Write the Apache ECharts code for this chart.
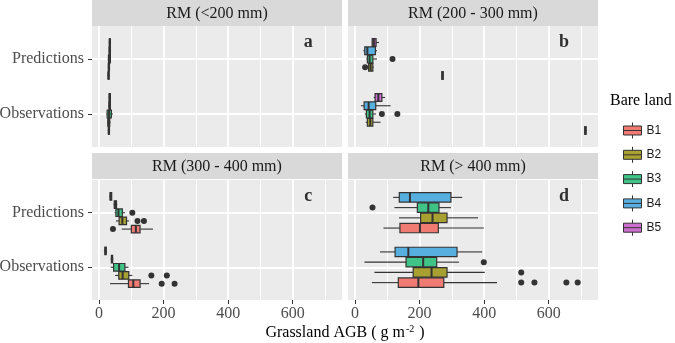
<!DOCTYPE html>
<html>
<head>
<meta charset="utf-8">
<script src="https://cdn.jsdelivr.net/npm/echarts@6/dist/echarts.min.js"></script>
<style>
  html, body { margin: 0; padding: 0; background: #fff; }
  #main { width: 675px; height: 343px; }
</style>
</head>
<body>
<div id="main"></div>
<script>
// panels, classes and ticks
const panelTitles = ['RM (<200 mm)', 'RM (200 - 300 mm)', 'RM (300 - 400 mm)', 'RM (> 400 mm)'];
const panelTags = ['a', 'b', 'c', 'd'];
const categories = ['Observations', 'Predictions'];
const bareLand = ['B1', 'B2', 'B3', 'B4', 'B5'];
const bareColors = ['#F07B72', '#A9A032', '#3FC386', '#57AFE0', '#CD6ED1'];
const xTicks = [0, 200, 400, 600];
const xMinorTicks = [100, 300, 500, 700];

// five number summaries [min, q1, median, q3, max] per bare land class (B1..B5), null = no data
const predA = [[26, 28, 29, 31, 33], [27, 29, 30, 32, 34], [27, 29, 31, 35, 37], [30, 31, 33, 35, 37], [30, 32, 33, 35, 37]];
const obsA = [[27, 29, 30, 32, 34], [25, 27, 30, 33, 36], [22, 25, 31, 38, 43], [29, 31, 32, 35, 37], [30, 31, 33, 35, 37]];
const predB = [[268, 269, 271, 273, 274], [40, 42, 48, 55, 58], [35, 38, 45, 55, 68], [25, 30, 38, 63, 68], [52, 53, 58, 65, 74]];
const obsB = [[711, 712, 714, 716, 718], [33, 38, 47, 55, 79], [30, 35, 45, 55, 65], [18, 28, 42, 64, 110], [58, 62, 72, 83, 93]];
const predC = [[70, 100, 114, 127, 167], [52, 62, 72, 85, 93], [48, 52, 60, 72, 80], [45, 47, 50, 54, 56], [32, 34, 36, 39, 40]];
const obsC = [[34, 91, 106, 127, 155], [50, 61, 73, 92, 103], [36, 45, 62, 80, 91], [36, 38, 40, 42, 44], [15, 18, 20, 22, 24]];
const predD = [[88, 139, 201, 258, 399], [136, 203, 240, 285, 381], [122, 193, 227, 260, 297], [118, 137, 170, 297, 332], null];
const obsD = [[52, 134, 196, 275, 440], [60, 180, 237, 285, 402], [29, 158, 211, 253, 322], [77, 124, 165, 316, 394], null];

// outliers [class index, value]
const outPredA = [];
const outObsA = [];
const outPredB = [[1, 31], [2, 116]];
const outObsB = [[2, 83], [2, 131]];
const outPredC = [[0, 43], [1, 119], [1, 139], [2, 103]];
const outObsC = [[0, 194], [0, 234], [1, 162], [1, 210]];
const outPredD = [[2, 54]];
const outObsD = [[0, 515], [0, 556], [0, 655], [0, 690], [1, 515], [2, 399]];

const predStats = [predA, predB, predC, predD];
const obsStats = [obsA, obsB, obsC, obsD];
const predOut = [outPredA, outPredB, outPredC, outPredD];
const obsOut = [outObsA, outObsB, outObsC, outObsD];

const X_MIN = -22, X_MAX = 753;
const Y_MIN = -0.6, Y_MAX = 1.6;
const DODGE = 0.75;

const gridBoxes = [
  { left: 92, top: 26, width: 250, height: 121 },
  { left: 348, top: 26, width: 250, height: 121 },
  { left: 92, top: 180, width: 250, height: 120 },
  { left: 348, top: 180, width: 250, height: 120 }
];
const stripTops = [0, 0, 153, 153];
const stripHeight = 26;

const serif = 'Liberation Serif';
const ink = '#333333';

function dodgeY(cat, k, n) {
  const slot = DODGE / n;
  return cat - DODGE / 2 + slot * (k + 0.5);
}

function renderBox(params, api) {
  const n = api.value(2);
  const yc = dodgeY(api.value(0), api.value(1), n);
  const half = DODGE / n * 0.46;
  const lo = api.coord([api.value(3), yc]);
  const q1 = api.coord([api.value(4), yc]);
  const q3 = api.coord([api.value(6), yc]);
  const hi = api.coord([api.value(7), yc]);
  const med = api.coord([api.value(5), yc]);
  const top = api.coord([api.value(4), yc + half])[1];
  const bot = api.coord([api.value(4), yc - half])[1];
  const line = { stroke: ink, lineWidth: 1.1 };
  return {
    type: 'group',
    children: [
      { type: 'line', shape: { x1: lo[0], y1: lo[1], x2: q1[0], y2: q1[1] }, style: line },
      { type: 'line', shape: { x1: q3[0], y1: q3[1], x2: hi[0], y2: hi[1] }, style: line },
      { type: 'rect', shape: { x: q1[0], y: top, width: Math.max(q3[0] - q1[0], 1), height: bot - top },
        style: { fill: api.visual('color'), stroke: ink, lineWidth: 1.2 } },
      { type: 'line', shape: { x1: med[0], y1: top, x2: med[0], y2: bot }, style: { stroke: ink, lineWidth: 2 } }
    ]
  };
}

function renderDot(params, api) {
  const yc = dodgeY(api.value(0), api.value(1), api.value(2));
  const p = api.coord([api.value(3), yc]);
  return { type: 'circle', shape: { cx: p[0], cy: p[1], r: 3 }, style: { fill: ink } };
}

const grids = [], xAxes = [], yAxes = [], series = [], graphics = [];

gridBoxes.forEach(function (g, p) {
  const bottomRow = p >= 2, leftCol = p % 2 === 0;
  grids.push(Object.assign({ show: true, backgroundColor: '#EBEBEB', borderWidth: 0, outerBoundsMode: 'none' }, g));

  xAxes.push({
    type: 'value', gridIndex: p, min: X_MIN, max: X_MAX, position: 'bottom',
    axisLine: { show: false, onZero: false },
    axisTick: { show: bottomRow, customValues: xTicks, length: 4, lineStyle: { color: ink } },
    axisLabel: { show: bottomRow, customValues: xTicks, margin: 6, fontFamily: serif, fontSize: 16, color: '#4D4D4D' },
    splitLine: { show: true, lineStyle: { color: '#fff', width: 1.8 } }
  });
  xAxes.push({
    type: 'value', gridIndex: p, min: X_MIN, max: X_MAX, position: 'bottom',
    axisLine: { show: false, onZero: false },
    axisTick: { show: false, customValues: xMinorTicks },
    axisLabel: { show: false, customValues: xMinorTicks },
    splitLine: { show: true, lineStyle: { color: '#fff', width: 1 } }
  });
  yAxes.push({
    type: 'value', gridIndex: p, min: Y_MIN, max: Y_MAX, position: 'left',
    axisLine: { show: false, onZero: false },
    axisTick: { show: leftCol, customValues: [0, 1], length: 4, lineStyle: { color: ink } },
    axisLabel: { show: leftCol, customValues: [0, 1], margin: 8, fontFamily: serif, fontSize: 16, color: '#4D4D4D',
      formatter: function (v) { return categories[Math.round(v)]; } },
    splitLine: { show: true, lineStyle: { color: '#fff', width: 1.8 } }
  });

  const pred = predStats[p], obs = obsStats[p];
  let n = 0;
  bareLand.forEach(function (b, k) { if (pred[k] || obs[k]) n++; });

  bareLand.forEach(function (b, k) {
    const data = [];
    if (pred[k]) data.push([1, k, n].concat(pred[k]));
    if (obs[k]) data.push([0, k, n].concat(obs[k]));
    if (!data.length) return;
    series.push({
      type: 'custom', name: b, xAxisIndex: p * 2, yAxisIndex: p,
      itemStyle: { color: bareColors[k] },
      encode: { x: [3, 4, 5, 6, 7], y: 0 },
      renderItem: renderBox, data: data, z: 3, silent: true
    });
  });

  const dots = predOut[p].map(function (o) { return [1, o[0], n, o[1]]; })
    .concat(obsOut[p].map(function (o) { return [0, o[0], n, o[1]]; }));
  series.push({
    type: 'custom', name: 'outliers', xAxisIndex: p * 2, yAxisIndex: p,
    encode: { x: 3, y: 0 }, renderItem: renderDot, data: dots, z: 4, silent: true
  });

  series.push({
    type: 'scatter', name: 'tag', xAxisIndex: p * 2, yAxisIndex: p,
    data: [[648, 1.3]], symbolSize: 0, silent: true,
    label: { show: true, position: 'inside', formatter: panelTags[p], fontFamily: serif,
      fontWeight: 'bold', fontSize: 18, color: '#000' }
  });

  graphics.push({
    type: 'group', left: g.left, top: stripTops[p],
    children: [
      { type: 'rect', shape: { x: 0, y: 0, width: g.width, height: stripHeight }, style: { fill: '#D9D9D9' } },
      { type: 'text', x: g.width / 2, y: stripHeight / 2 + 1,
        style: { text: panelTitles[p], font: '16px "Liberation Serif"', fill: '#1A1A1A', align: 'center', verticalAlign: 'middle' } }
    ]
  });
});

graphics.push({
  type: 'text', x: 345, y: 333,
  style: {
    text: 'Grassland AGB ( g m{sup|-2} )', font: '16px "Liberation Serif"', fill: '#000',
    align: 'center', verticalAlign: 'middle',
    rich: { sup: { fontSize: 10, fontFamily: serif, verticalAlign: 'top', padding: [0, 1, 8, 1] } }
  }
});
graphics.push({
  type: 'text', x: 610, y: 101,
  style: { text: 'Bare land', font: '16px "Liberation Serif"', fill: '#000', verticalAlign: 'middle' }
});

const boxIcon = 'path://M0,3.5H18V12.5H0Z M0,8H18 M9,0V3.5 M9,12.5V16';

const chart = echarts.init(document.getElementById('main'), null, { renderer: 'canvas' });
chart.setOption({
  animation: false,
  backgroundColor: '#fff',
  grid: grids,
  xAxis: xAxes,
  yAxis: yAxes,
  legend: {
    data: bareLand.map(function (b) { return { name: b, icon: boxIcon }; }),
    orient: 'vertical', left: 618, top: 117, itemWidth: 18, itemHeight: 16, itemGap: 7.3,
    selectedMode: false,
    itemStyle: { borderColor: ink, borderWidth: 1 },
    textStyle: { fontFamily: 'Liberation Sans', fontSize: 12, color: '#1A1A1A' }
  },
  graphic: graphics,
  series: series
});
</script>
</body>
</html>
